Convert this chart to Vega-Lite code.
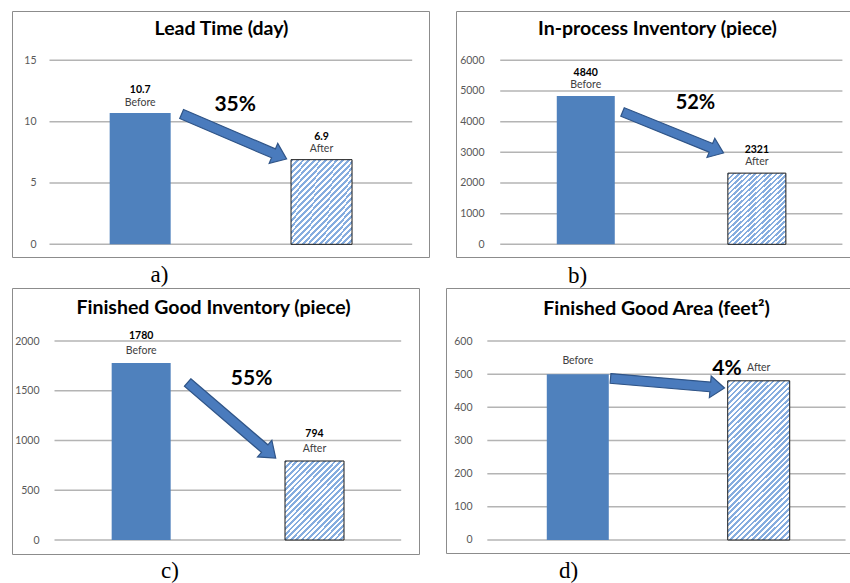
{
  "$schema": "https://vega.github.io/schema/vega-lite/v6.json",
  "background": "white",
  "padding": {"left": 11, "top": 10, "right": 0, "bottom": 0},
  "datasets": {
    "bars": [
      {"panel": "a", "cat": "Before", "x": 1, "value": 10.7, "vtext": "10.7"},
      {"panel": "a", "cat": "After", "x": 2, "value": 6.9, "vtext": "6.9"},
      {"panel": "b", "cat": "Before", "x": 1, "value": 4840, "vtext": "4840"},
      {"panel": "b", "cat": "After", "x": 2, "value": 2321, "vtext": "2321"},
      {"panel": "c", "cat": "Before", "x": 1, "value": 1780, "vtext": "1780"},
      {"panel": "c", "cat": "After", "x": 2, "value": 794, "vtext": "794"},
      {"panel": "d", "cat": "Before", "x": 1, "value": 500, "vtext": ""},
      {"panel": "d", "cat": "After", "x": 2, "value": 480, "vtext": ""}
    ],
    "grid": [
      {"panel": "a", "value": 0}, {"panel": "a", "value": 5}, {"panel": "a", "value": 10}, {"panel": "a", "value": 15},
      {"panel": "b", "value": 0}, {"panel": "b", "value": 1000}, {"panel": "b", "value": 2000}, {"panel": "b", "value": 3000},
      {"panel": "b", "value": 4000}, {"panel": "b", "value": 5000}, {"panel": "b", "value": 6000},
      {"panel": "c", "value": 0}, {"panel": "c", "value": 500}, {"panel": "c", "value": 1000}, {"panel": "c", "value": 1500}, {"panel": "c", "value": 2000},
      {"panel": "d", "value": 0}, {"panel": "d", "value": 100}, {"panel": "d", "value": 200}, {"panel": "d", "value": 300},
      {"panel": "d", "value": 400}, {"panel": "d", "value": 500}, {"panel": "d", "value": 600}
    ],
    "pct": [
      {"panel": "a", "x": 1.524, "value": 10.87, "label": "35%"},
      {"panel": "b", "x": 1.641, "value": 4412, "label": "52%"},
      {"panel": "c", "x": 1.637, "value": 1558, "label": "55%"},
      {"panel": "d", "x": 1.825, "value": 497.5, "label": "4%"}
    ],
    "arrows": [
      {"panel": "a", "x": 1.518, "value": 8.79},
      {"panel": "b", "x": 1.51, "value": 3646},
      {"panel": "c", "x": 1.522, "value": 1203.5},
      {"panel": "d", "x": 1.496, "value": 472.6}
    ]
  },
  "spacing": -2,
  "vconcat": [
    {
      "spacing": 25,
      "hconcat": [
        {
          "width": 417, "height": 246,
          "title": {"text": "Lead Time (day)", "offset": -28, "dx": 1},
          "encoding": {
            "y": {"field": "value", "type": "quantitative", "scale": {"domain": [-1.035, 19.019], "nice": false, "zero": false}, "axis": {"values": [0, 5, 10, 15], "offset": -24, "format": "d"}}
          },
          "layer": [
            {"data": {"name": "grid"}, "transform": [{"filter": "datum.panel === 'a'"}], "mark": {"type": "rule", "color": "#b4b4b4", "strokeWidth": 1.5}, "encoding": {"x": {"datum": 0.5, "type": "quantitative"}, "x2": {"datum": 2.5}}},
            {"data": {"name": "bars"}, "transform": [{"filter": "datum.panel === 'a' && datum.cat === 'Before'"}], "mark": {"type": "bar", "width": 61, "fill": "#4f81bd"},
             "encoding": {"x": {"field": "x", "type": "quantitative", "scale": {"domain": [0.3208, 2.5651], "nice": false, "zero": false}, "axis": {"title": "a)", "titleX": 147, "titleY": 24}}}},
            {"data": {"name": "bars"}, "transform": [{"filter": "datum.panel === 'a' && datum.cat === 'After'"}],
             "mark": {"type": "bar", "width": 61, "stroke": "#1a1a1a", "strokeWidth": 1, "fill": {"gradient": "linear", "x1": 0, "y1": 0, "x2": 0.848, "y2": 1.1156, "stops": [
        {"offset": 0, "color": "#86addf"},
        {"offset": 0.02, "color": "#86addf"}, {"offset": 0.02, "color": "#ffffff"},
        {"offset": 0.04, "color": "#ffffff"}, {"offset": 0.04, "color": "#86addf"},
        {"offset": 0.06, "color": "#86addf"}, {"offset": 0.06, "color": "#ffffff"},
        {"offset": 0.08, "color": "#ffffff"}, {"offset": 0.08, "color": "#86addf"},
        {"offset": 0.1, "color": "#86addf"}, {"offset": 0.1, "color": "#ffffff"},
        {"offset": 0.12, "color": "#ffffff"}, {"offset": 0.12, "color": "#86addf"},
        {"offset": 0.14, "color": "#86addf"}, {"offset": 0.14, "color": "#ffffff"},
        {"offset": 0.16, "color": "#ffffff"}, {"offset": 0.16, "color": "#86addf"},
        {"offset": 0.18, "color": "#86addf"}, {"offset": 0.18, "color": "#ffffff"},
        {"offset": 0.2, "color": "#ffffff"}, {"offset": 0.2, "color": "#86addf"},
        {"offset": 0.22, "color": "#86addf"}, {"offset": 0.22, "color": "#ffffff"},
        {"offset": 0.24, "color": "#ffffff"}, {"offset": 0.24, "color": "#86addf"},
        {"offset": 0.26, "color": "#86addf"}, {"offset": 0.26, "color": "#ffffff"},
        {"offset": 0.28, "color": "#ffffff"}, {"offset": 0.28, "color": "#86addf"},
        {"offset": 0.3, "color": "#86addf"}, {"offset": 0.3, "color": "#ffffff"},
        {"offset": 0.32, "color": "#ffffff"}, {"offset": 0.32, "color": "#86addf"},
        {"offset": 0.34, "color": "#86addf"}, {"offset": 0.34, "color": "#ffffff"},
        {"offset": 0.36, "color": "#ffffff"}, {"offset": 0.36, "color": "#86addf"},
        {"offset": 0.38, "color": "#86addf"}, {"offset": 0.38, "color": "#ffffff"},
        {"offset": 0.4, "color": "#ffffff"}, {"offset": 0.4, "color": "#86addf"},
        {"offset": 0.42, "color": "#86addf"}, {"offset": 0.42, "color": "#ffffff"},
        {"offset": 0.44, "color": "#ffffff"}, {"offset": 0.44, "color": "#86addf"},
        {"offset": 0.46, "color": "#86addf"}, {"offset": 0.46, "color": "#ffffff"},
        {"offset": 0.48, "color": "#ffffff"}, {"offset": 0.48, "color": "#86addf"},
        {"offset": 0.5, "color": "#86addf"}, {"offset": 0.5, "color": "#ffffff"},
        {"offset": 0.52, "color": "#ffffff"}, {"offset": 0.52, "color": "#86addf"},
        {"offset": 0.54, "color": "#86addf"}, {"offset": 0.54, "color": "#ffffff"},
        {"offset": 0.56, "color": "#ffffff"}, {"offset": 0.56, "color": "#86addf"},
        {"offset": 0.58, "color": "#86addf"}, {"offset": 0.58, "color": "#ffffff"},
        {"offset": 0.6, "color": "#ffffff"}, {"offset": 0.6, "color": "#86addf"},
        {"offset": 0.62, "color": "#86addf"}, {"offset": 0.62, "color": "#ffffff"},
        {"offset": 0.64, "color": "#ffffff"}, {"offset": 0.64, "color": "#86addf"},
        {"offset": 0.66, "color": "#86addf"}, {"offset": 0.66, "color": "#ffffff"},
        {"offset": 0.68, "color": "#ffffff"}, {"offset": 0.68, "color": "#86addf"},
        {"offset": 0.7, "color": "#86addf"}, {"offset": 0.7, "color": "#ffffff"},
        {"offset": 0.72, "color": "#ffffff"}, {"offset": 0.72, "color": "#86addf"},
        {"offset": 0.74, "color": "#86addf"}, {"offset": 0.74, "color": "#ffffff"},
        {"offset": 0.76, "color": "#ffffff"}, {"offset": 0.76, "color": "#86addf"},
        {"offset": 0.78, "color": "#86addf"}, {"offset": 0.78, "color": "#ffffff"},
        {"offset": 0.8, "color": "#ffffff"}, {"offset": 0.8, "color": "#86addf"},
        {"offset": 0.82, "color": "#86addf"}, {"offset": 0.82, "color": "#ffffff"},
        {"offset": 0.84, "color": "#ffffff"}, {"offset": 0.84, "color": "#86addf"},
        {"offset": 0.86, "color": "#86addf"}, {"offset": 0.86, "color": "#ffffff"},
        {"offset": 0.88, "color": "#ffffff"}, {"offset": 0.88, "color": "#86addf"},
        {"offset": 0.9, "color": "#86addf"}, {"offset": 0.9, "color": "#ffffff"},
        {"offset": 0.92, "color": "#ffffff"}, {"offset": 0.92, "color": "#86addf"},
        {"offset": 0.94, "color": "#86addf"}, {"offset": 0.94, "color": "#ffffff"},
        {"offset": 0.96, "color": "#ffffff"}, {"offset": 0.96, "color": "#86addf"},
        {"offset": 0.98, "color": "#86addf"}, {"offset": 0.98, "color": "#ffffff"},
        {"offset": 1, "color": "#ffffff"}]}},
             "encoding": {"x": {"field": "x", "type": "quantitative"}}},
            {"data": {"name": "bars"}, "transform": [{"filter": "datum.panel === 'a'"}], "mark": {"type": "text", "dy": -7.5, "baseline": "alphabetic", "fontSize": 10.5, "color": "#404040"}, "encoding": {"x": {"field": "x", "type": "quantitative"}, "text": {"field": "cat"}}},
            {"data": {"name": "bars"}, "transform": [{"filter": "datum.panel === 'a'"}], "mark": {"type": "text", "dy": -20, "baseline": "alphabetic", "fontSize": 10.5, "fontWeight": "bold", "color": "#000000"}, "encoding": {"x": {"field": "x", "type": "quantitative"}, "text": {"field": "vtext"}}},
            {"data": {"name": "arrows"}, "transform": [{"filter": "datum.panel === 'a'"}], "mark": {"type": "point", "shape": "M-1,-0.085L0.75,-0.085L0.75,-0.19L1,0L0.75,0.19L0.75,0.085L-1,0.085Z", "size": 13042, "angle": 23.2, "filled": true, "fill": "#4a7bbd", "stroke": "#2f5487", "strokeWidth": 1.2, "opacity": 1}, "encoding": {"x": {"field": "x", "type": "quantitative"}}},
            {"data": {"name": "pct"}, "transform": [{"filter": "datum.panel === 'a'"}], "mark": {"type": "text", "baseline": "alphabetic", "align": "center", "fontSize": 21, "fontWeight": "bold", "color": "#000000"}, "encoding": {"x": {"field": "x", "type": "quantitative"}, "text": {"field": "label"}}}
          ]
        },
        {
          "width": 395, "height": 246,
          "title": {"text": "In-process Inventory (piece)", "offset": -28, "dx": 4},
          "encoding": {
            "y": {"field": "value", "type": "quantitative", "scale": {"domain": [-414, 7608], "nice": false, "zero": false}, "axis": {"values": [0, 1000, 2000, 3000, 4000, 5000, 6000], "offset": -28, "format": "d"}}
          },
          "layer": [
            {"data": {"name": "grid"}, "transform": [{"filter": "datum.panel === 'b'"}], "mark": {"type": "rule", "color": "#b4b4b4", "strokeWidth": 1.5}, "encoding": {"x": {"datum": 0.5, "type": "quantitative"}, "x2": {"datum": 2.5}}},
            {"data": {"name": "bars"}, "transform": [{"filter": "datum.panel === 'b' && datum.cat === 'Before'"}], "mark": {"type": "bar", "width": 58, "fill": "#4f81bd"},
             "encoding": {"x": {"field": "x", "type": "quantitative", "scale": {"domain": [0.2707, 2.521], "nice": false, "zero": false}, "axis": {"title": "b)", "titleX": 121, "titleY": 25.5}}}},
            {"data": {"name": "bars"}, "transform": [{"filter": "datum.panel === 'b' && datum.cat === 'After'"}],
             "mark": {"type": "bar", "width": 58, "stroke": "#1a1a1a", "strokeWidth": 1, "fill": {"gradient": "linear", "x1": 0, "y1": 0, "x2": 0.848, "y2": 1.1156, "stops": [
        {"offset": 0, "color": "#86addf"},
        {"offset": 0.02, "color": "#86addf"}, {"offset": 0.02, "color": "#ffffff"},
        {"offset": 0.04, "color": "#ffffff"}, {"offset": 0.04, "color": "#86addf"},
        {"offset": 0.06, "color": "#86addf"}, {"offset": 0.06, "color": "#ffffff"},
        {"offset": 0.08, "color": "#ffffff"}, {"offset": 0.08, "color": "#86addf"},
        {"offset": 0.1, "color": "#86addf"}, {"offset": 0.1, "color": "#ffffff"},
        {"offset": 0.12, "color": "#ffffff"}, {"offset": 0.12, "color": "#86addf"},
        {"offset": 0.14, "color": "#86addf"}, {"offset": 0.14, "color": "#ffffff"},
        {"offset": 0.16, "color": "#ffffff"}, {"offset": 0.16, "color": "#86addf"},
        {"offset": 0.18, "color": "#86addf"}, {"offset": 0.18, "color": "#ffffff"},
        {"offset": 0.2, "color": "#ffffff"}, {"offset": 0.2, "color": "#86addf"},
        {"offset": 0.22, "color": "#86addf"}, {"offset": 0.22, "color": "#ffffff"},
        {"offset": 0.24, "color": "#ffffff"}, {"offset": 0.24, "color": "#86addf"},
        {"offset": 0.26, "color": "#86addf"}, {"offset": 0.26, "color": "#ffffff"},
        {"offset": 0.28, "color": "#ffffff"}, {"offset": 0.28, "color": "#86addf"},
        {"offset": 0.3, "color": "#86addf"}, {"offset": 0.3, "color": "#ffffff"},
        {"offset": 0.32, "color": "#ffffff"}, {"offset": 0.32, "color": "#86addf"},
        {"offset": 0.34, "color": "#86addf"}, {"offset": 0.34, "color": "#ffffff"},
        {"offset": 0.36, "color": "#ffffff"}, {"offset": 0.36, "color": "#86addf"},
        {"offset": 0.38, "color": "#86addf"}, {"offset": 0.38, "color": "#ffffff"},
        {"offset": 0.4, "color": "#ffffff"}, {"offset": 0.4, "color": "#86addf"},
        {"offset": 0.42, "color": "#86addf"}, {"offset": 0.42, "color": "#ffffff"},
        {"offset": 0.44, "color": "#ffffff"}, {"offset": 0.44, "color": "#86addf"},
        {"offset": 0.46, "color": "#86addf"}, {"offset": 0.46, "color": "#ffffff"},
        {"offset": 0.48, "color": "#ffffff"}, {"offset": 0.48, "color": "#86addf"},
        {"offset": 0.5, "color": "#86addf"}, {"offset": 0.5, "color": "#ffffff"},
        {"offset": 0.52, "color": "#ffffff"}, {"offset": 0.52, "color": "#86addf"},
        {"offset": 0.54, "color": "#86addf"}, {"offset": 0.54, "color": "#ffffff"},
        {"offset": 0.56, "color": "#ffffff"}, {"offset": 0.56, "color": "#86addf"},
        {"offset": 0.58, "color": "#86addf"}, {"offset": 0.58, "color": "#ffffff"},
        {"offset": 0.6, "color": "#ffffff"}, {"offset": 0.6, "color": "#86addf"},
        {"offset": 0.62, "color": "#86addf"}, {"offset": 0.62, "color": "#ffffff"},
        {"offset": 0.64, "color": "#ffffff"}, {"offset": 0.64, "color": "#86addf"},
        {"offset": 0.66, "color": "#86addf"}, {"offset": 0.66, "color": "#ffffff"},
        {"offset": 0.68, "color": "#ffffff"}, {"offset": 0.68, "color": "#86addf"},
        {"offset": 0.7, "color": "#86addf"}, {"offset": 0.7, "color": "#ffffff"},
        {"offset": 0.72, "color": "#ffffff"}, {"offset": 0.72, "color": "#86addf"},
        {"offset": 0.74, "color": "#86addf"}, {"offset": 0.74, "color": "#ffffff"},
        {"offset": 0.76, "color": "#ffffff"}, {"offset": 0.76, "color": "#86addf"},
        {"offset": 0.78, "color": "#86addf"}, {"offset": 0.78, "color": "#ffffff"},
        {"offset": 0.8, "color": "#ffffff"}, {"offset": 0.8, "color": "#86addf"},
        {"offset": 0.82, "color": "#86addf"}, {"offset": 0.82, "color": "#ffffff"},
        {"offset": 0.84, "color": "#ffffff"}, {"offset": 0.84, "color": "#86addf"},
        {"offset": 0.86, "color": "#86addf"}, {"offset": 0.86, "color": "#ffffff"},
        {"offset": 0.88, "color": "#ffffff"}, {"offset": 0.88, "color": "#86addf"},
        {"offset": 0.9, "color": "#86addf"}, {"offset": 0.9, "color": "#ffffff"},
        {"offset": 0.92, "color": "#ffffff"}, {"offset": 0.92, "color": "#86addf"},
        {"offset": 0.94, "color": "#86addf"}, {"offset": 0.94, "color": "#ffffff"},
        {"offset": 0.96, "color": "#ffffff"}, {"offset": 0.96, "color": "#86addf"},
        {"offset": 0.98, "color": "#86addf"}, {"offset": 0.98, "color": "#ffffff"},
        {"offset": 1, "color": "#ffffff"}]}},
             "encoding": {"x": {"field": "x", "type": "quantitative"}}},
            {"data": {"name": "bars"}, "transform": [{"filter": "datum.panel === 'b'"}], "mark": {"type": "text", "dy": -8, "baseline": "alphabetic", "fontSize": 10.5, "color": "#404040"}, "encoding": {"x": {"field": "x", "type": "quantitative"}, "text": {"field": "cat"}}},
            {"data": {"name": "bars"}, "transform": [{"filter": "datum.panel === 'b'"}], "mark": {"type": "text", "dy": -20, "baseline": "alphabetic", "fontSize": 10.5, "fontWeight": "bold", "color": "#000000"}, "encoding": {"x": {"field": "x", "type": "quantitative"}, "text": {"field": "vtext"}}},
            {"data": {"name": "arrows"}, "transform": [{"filter": "datum.panel === 'b'"}], "mark": {"type": "point", "shape": "M-1,-0.085L0.75,-0.085L0.75,-0.19L1,0L0.75,0.19L0.75,0.085L-1,0.085Z", "size": 11881, "angle": 22.1, "filled": true, "fill": "#4a7bbd", "stroke": "#2f5487", "strokeWidth": 1.2, "opacity": 1}, "encoding": {"x": {"field": "x", "type": "quantitative"}}},
            {"data": {"name": "pct"}, "transform": [{"filter": "datum.panel === 'b'"}], "mark": {"type": "text", "baseline": "alphabetic", "align": "center", "fontSize": 20, "fontWeight": "bold", "color": "#000000"}, "encoding": {"x": {"field": "x", "type": "quantitative"}, "text": {"field": "label"}}}
          ]
        }
      ]
    },
    {
      "spacing": 25,
      "hconcat": [
        {
          "width": 407, "height": 266,
          "title": {"text": "Finished Good Inventory (piece)", "offset": -30, "dx": -2},
          "encoding": {
            "y": {"field": "value", "type": "quantitative", "scale": {"domain": [-140.7, 2532.7], "nice": false, "zero": false}, "axis": {"values": [0, 500, 1000, 1500, 2000], "offset": -27, "format": "d"}}
          },
          "layer": [
            {"data": {"name": "grid"}, "transform": [{"filter": "datum.panel === 'c'"}], "mark": {"type": "rule", "color": "#b4b4b4", "strokeWidth": 1.5}, "encoding": {"x": {"datum": 0.5, "type": "quantitative"}, "x2": {"datum": 2.5}}},
            {"data": {"name": "bars"}, "transform": [{"filter": "datum.panel === 'c' && datum.cat === 'Before'"}], "mark": {"type": "bar", "width": 59, "fill": "#4f81bd"},
             "encoding": {"x": {"field": "x", "type": "quantitative", "scale": {"domain": [0.2836, 2.574], "nice": false, "zero": false}, "axis": {"title": "c)", "titleX": 157.5, "titleY": 23}}}},
            {"data": {"name": "bars"}, "transform": [{"filter": "datum.panel === 'c' && datum.cat === 'After'"}],
             "mark": {"type": "bar", "width": 59, "stroke": "#1a1a1a", "strokeWidth": 1, "fill": {"gradient": "linear", "x1": 0, "y1": 0, "x2": 0.848, "y2": 1.1156, "stops": [
        {"offset": 0, "color": "#86addf"},
        {"offset": 0.02, "color": "#86addf"}, {"offset": 0.02, "color": "#ffffff"},
        {"offset": 0.04, "color": "#ffffff"}, {"offset": 0.04, "color": "#86addf"},
        {"offset": 0.06, "color": "#86addf"}, {"offset": 0.06, "color": "#ffffff"},
        {"offset": 0.08, "color": "#ffffff"}, {"offset": 0.08, "color": "#86addf"},
        {"offset": 0.1, "color": "#86addf"}, {"offset": 0.1, "color": "#ffffff"},
        {"offset": 0.12, "color": "#ffffff"}, {"offset": 0.12, "color": "#86addf"},
        {"offset": 0.14, "color": "#86addf"}, {"offset": 0.14, "color": "#ffffff"},
        {"offset": 0.16, "color": "#ffffff"}, {"offset": 0.16, "color": "#86addf"},
        {"offset": 0.18, "color": "#86addf"}, {"offset": 0.18, "color": "#ffffff"},
        {"offset": 0.2, "color": "#ffffff"}, {"offset": 0.2, "color": "#86addf"},
        {"offset": 0.22, "color": "#86addf"}, {"offset": 0.22, "color": "#ffffff"},
        {"offset": 0.24, "color": "#ffffff"}, {"offset": 0.24, "color": "#86addf"},
        {"offset": 0.26, "color": "#86addf"}, {"offset": 0.26, "color": "#ffffff"},
        {"offset": 0.28, "color": "#ffffff"}, {"offset": 0.28, "color": "#86addf"},
        {"offset": 0.3, "color": "#86addf"}, {"offset": 0.3, "color": "#ffffff"},
        {"offset": 0.32, "color": "#ffffff"}, {"offset": 0.32, "color": "#86addf"},
        {"offset": 0.34, "color": "#86addf"}, {"offset": 0.34, "color": "#ffffff"},
        {"offset": 0.36, "color": "#ffffff"}, {"offset": 0.36, "color": "#86addf"},
        {"offset": 0.38, "color": "#86addf"}, {"offset": 0.38, "color": "#ffffff"},
        {"offset": 0.4, "color": "#ffffff"}, {"offset": 0.4, "color": "#86addf"},
        {"offset": 0.42, "color": "#86addf"}, {"offset": 0.42, "color": "#ffffff"},
        {"offset": 0.44, "color": "#ffffff"}, {"offset": 0.44, "color": "#86addf"},
        {"offset": 0.46, "color": "#86addf"}, {"offset": 0.46, "color": "#ffffff"},
        {"offset": 0.48, "color": "#ffffff"}, {"offset": 0.48, "color": "#86addf"},
        {"offset": 0.5, "color": "#86addf"}, {"offset": 0.5, "color": "#ffffff"},
        {"offset": 0.52, "color": "#ffffff"}, {"offset": 0.52, "color": "#86addf"},
        {"offset": 0.54, "color": "#86addf"}, {"offset": 0.54, "color": "#ffffff"},
        {"offset": 0.56, "color": "#ffffff"}, {"offset": 0.56, "color": "#86addf"},
        {"offset": 0.58, "color": "#86addf"}, {"offset": 0.58, "color": "#ffffff"},
        {"offset": 0.6, "color": "#ffffff"}, {"offset": 0.6, "color": "#86addf"},
        {"offset": 0.62, "color": "#86addf"}, {"offset": 0.62, "color": "#ffffff"},
        {"offset": 0.64, "color": "#ffffff"}, {"offset": 0.64, "color": "#86addf"},
        {"offset": 0.66, "color": "#86addf"}, {"offset": 0.66, "color": "#ffffff"},
        {"offset": 0.68, "color": "#ffffff"}, {"offset": 0.68, "color": "#86addf"},
        {"offset": 0.7, "color": "#86addf"}, {"offset": 0.7, "color": "#ffffff"},
        {"offset": 0.72, "color": "#ffffff"}, {"offset": 0.72, "color": "#86addf"},
        {"offset": 0.74, "color": "#86addf"}, {"offset": 0.74, "color": "#ffffff"},
        {"offset": 0.76, "color": "#ffffff"}, {"offset": 0.76, "color": "#86addf"},
        {"offset": 0.78, "color": "#86addf"}, {"offset": 0.78, "color": "#ffffff"},
        {"offset": 0.8, "color": "#ffffff"}, {"offset": 0.8, "color": "#86addf"},
        {"offset": 0.82, "color": "#86addf"}, {"offset": 0.82, "color": "#ffffff"},
        {"offset": 0.84, "color": "#ffffff"}, {"offset": 0.84, "color": "#86addf"},
        {"offset": 0.86, "color": "#86addf"}, {"offset": 0.86, "color": "#ffffff"},
        {"offset": 0.88, "color": "#ffffff"}, {"offset": 0.88, "color": "#86addf"},
        {"offset": 0.9, "color": "#86addf"}, {"offset": 0.9, "color": "#ffffff"},
        {"offset": 0.92, "color": "#ffffff"}, {"offset": 0.92, "color": "#86addf"},
        {"offset": 0.94, "color": "#86addf"}, {"offset": 0.94, "color": "#ffffff"},
        {"offset": 0.96, "color": "#ffffff"}, {"offset": 0.96, "color": "#86addf"},
        {"offset": 0.98, "color": "#86addf"}, {"offset": 0.98, "color": "#ffffff"},
        {"offset": 1, "color": "#ffffff"}]}},
             "encoding": {"x": {"field": "x", "type": "quantitative"}}},
            {"data": {"name": "bars"}, "transform": [{"filter": "datum.panel === 'c'"}], "mark": {"type": "text", "dy": -9, "baseline": "alphabetic", "fontSize": 10.5, "color": "#404040"}, "encoding": {"x": {"field": "x", "type": "quantitative"}, "text": {"field": "cat"}}},
            {"data": {"name": "bars"}, "transform": [{"filter": "datum.panel === 'c'"}], "mark": {"type": "text", "dy": -24, "baseline": "alphabetic", "fontSize": 10.5, "fontWeight": "bold", "color": "#000000"}, "encoding": {"x": {"field": "x", "type": "quantitative"}, "text": {"field": "vtext"}}},
            {"data": {"name": "arrows"}, "transform": [{"filter": "datum.panel === 'c'"}], "mark": {"type": "point", "shape": "M-1,-0.085L0.75,-0.085L0.75,-0.19L1,0L0.75,0.19L0.75,0.085L-1,0.085Z", "size": 13456, "angle": 40.6, "filled": true, "fill": "#4a7bbd", "stroke": "#2f5487", "strokeWidth": 1.2, "opacity": 1}, "encoding": {"x": {"field": "x", "type": "quantitative"}}},
            {"data": {"name": "pct"}, "transform": [{"filter": "datum.panel === 'c'"}], "mark": {"type": "text", "baseline": "alphabetic", "align": "center", "fontSize": 21, "fontWeight": "bold", "color": "#000000"}, "encoding": {"x": {"field": "x", "type": "quantitative"}, "text": {"field": "label"}}}
          ]
        },
        {
          "width": 405, "height": 265,
          "title": {"text": "Finished Good Area (feet²)", "offset": -31, "dx": 8},
          "encoding": {
            "y": {"field": "value", "type": "quantitative", "scale": {"domain": [-39.2, 759.8], "nice": false, "zero": false}, "axis": {"values": [0, 100, 200, 300, 400, 500, 600], "offset": -26, "format": "d"}}
          },
          "layer": [
            {"data": {"name": "grid"}, "transform": [{"filter": "datum.panel === 'd'"}], "mark": {"type": "rule", "color": "#b4b4b4", "strokeWidth": 1.5}, "encoding": {"x": {"datum": 0.5, "type": "quantitative"}, "x2": {"datum": 2.48}}},
            {"data": {"name": "bars"}, "transform": [{"filter": "datum.panel === 'd' && datum.cat === 'Before'"}], "mark": {"type": "bar", "width": 62, "fill": "#4f81bd"},
             "encoding": {"x": {"field": "x", "type": "quantitative", "scale": {"domain": [0.2992, 2.4825], "nice": false, "zero": false}, "axis": {"title": "d)", "titleX": 122, "titleY": 24}}}},
            {"data": {"name": "bars"}, "transform": [{"filter": "datum.panel === 'd' && datum.cat === 'After'"}],
             "mark": {"type": "bar", "width": 62, "stroke": "#1a1a1a", "strokeWidth": 1, "fill": {"gradient": "linear", "x1": 0, "y1": 0, "x2": 0.4656, "y2": 1.2063, "stops": [
        {"offset": 0, "color": "#86addf"},
        {"offset": 0.0125, "color": "#86addf"}, {"offset": 0.0125, "color": "#ffffff"},
        {"offset": 0.025, "color": "#ffffff"}, {"offset": 0.025, "color": "#86addf"},
        {"offset": 0.0375, "color": "#86addf"}, {"offset": 0.0375, "color": "#ffffff"},
        {"offset": 0.05, "color": "#ffffff"}, {"offset": 0.05, "color": "#86addf"},
        {"offset": 0.0625, "color": "#86addf"}, {"offset": 0.0625, "color": "#ffffff"},
        {"offset": 0.075, "color": "#ffffff"}, {"offset": 0.075, "color": "#86addf"},
        {"offset": 0.0875, "color": "#86addf"}, {"offset": 0.0875, "color": "#ffffff"},
        {"offset": 0.1, "color": "#ffffff"}, {"offset": 0.1, "color": "#86addf"},
        {"offset": 0.1125, "color": "#86addf"}, {"offset": 0.1125, "color": "#ffffff"},
        {"offset": 0.125, "color": "#ffffff"}, {"offset": 0.125, "color": "#86addf"},
        {"offset": 0.1375, "color": "#86addf"}, {"offset": 0.1375, "color": "#ffffff"},
        {"offset": 0.15, "color": "#ffffff"}, {"offset": 0.15, "color": "#86addf"},
        {"offset": 0.1625, "color": "#86addf"}, {"offset": 0.1625, "color": "#ffffff"},
        {"offset": 0.175, "color": "#ffffff"}, {"offset": 0.175, "color": "#86addf"},
        {"offset": 0.1875, "color": "#86addf"}, {"offset": 0.1875, "color": "#ffffff"},
        {"offset": 0.2, "color": "#ffffff"}, {"offset": 0.2, "color": "#86addf"},
        {"offset": 0.2125, "color": "#86addf"}, {"offset": 0.2125, "color": "#ffffff"},
        {"offset": 0.225, "color": "#ffffff"}, {"offset": 0.225, "color": "#86addf"},
        {"offset": 0.2375, "color": "#86addf"}, {"offset": 0.2375, "color": "#ffffff"},
        {"offset": 0.25, "color": "#ffffff"}, {"offset": 0.25, "color": "#86addf"},
        {"offset": 0.2625, "color": "#86addf"}, {"offset": 0.2625, "color": "#ffffff"},
        {"offset": 0.275, "color": "#ffffff"}, {"offset": 0.275, "color": "#86addf"},
        {"offset": 0.2875, "color": "#86addf"}, {"offset": 0.2875, "color": "#ffffff"},
        {"offset": 0.3, "color": "#ffffff"}, {"offset": 0.3, "color": "#86addf"},
        {"offset": 0.3125, "color": "#86addf"}, {"offset": 0.3125, "color": "#ffffff"},
        {"offset": 0.325, "color": "#ffffff"}, {"offset": 0.325, "color": "#86addf"},
        {"offset": 0.3375, "color": "#86addf"}, {"offset": 0.3375, "color": "#ffffff"},
        {"offset": 0.35, "color": "#ffffff"}, {"offset": 0.35, "color": "#86addf"},
        {"offset": 0.3625, "color": "#86addf"}, {"offset": 0.3625, "color": "#ffffff"},
        {"offset": 0.375, "color": "#ffffff"}, {"offset": 0.375, "color": "#86addf"},
        {"offset": 0.3875, "color": "#86addf"}, {"offset": 0.3875, "color": "#ffffff"},
        {"offset": 0.4, "color": "#ffffff"}, {"offset": 0.4, "color": "#86addf"},
        {"offset": 0.4125, "color": "#86addf"}, {"offset": 0.4125, "color": "#ffffff"},
        {"offset": 0.425, "color": "#ffffff"}, {"offset": 0.425, "color": "#86addf"},
        {"offset": 0.4375, "color": "#86addf"}, {"offset": 0.4375, "color": "#ffffff"},
        {"offset": 0.45, "color": "#ffffff"}, {"offset": 0.45, "color": "#86addf"},
        {"offset": 0.4625, "color": "#86addf"}, {"offset": 0.4625, "color": "#ffffff"},
        {"offset": 0.475, "color": "#ffffff"}, {"offset": 0.475, "color": "#86addf"},
        {"offset": 0.4875, "color": "#86addf"}, {"offset": 0.4875, "color": "#ffffff"},
        {"offset": 0.5, "color": "#ffffff"}, {"offset": 0.5, "color": "#86addf"},
        {"offset": 0.5125, "color": "#86addf"}, {"offset": 0.5125, "color": "#ffffff"},
        {"offset": 0.525, "color": "#ffffff"}, {"offset": 0.525, "color": "#86addf"},
        {"offset": 0.5375, "color": "#86addf"}, {"offset": 0.5375, "color": "#ffffff"},
        {"offset": 0.55, "color": "#ffffff"}, {"offset": 0.55, "color": "#86addf"},
        {"offset": 0.5625, "color": "#86addf"}, {"offset": 0.5625, "color": "#ffffff"},
        {"offset": 0.575, "color": "#ffffff"}, {"offset": 0.575, "color": "#86addf"},
        {"offset": 0.5875, "color": "#86addf"}, {"offset": 0.5875, "color": "#ffffff"},
        {"offset": 0.6, "color": "#ffffff"}, {"offset": 0.6, "color": "#86addf"},
        {"offset": 0.6125, "color": "#86addf"}, {"offset": 0.6125, "color": "#ffffff"},
        {"offset": 0.625, "color": "#ffffff"}, {"offset": 0.625, "color": "#86addf"},
        {"offset": 0.6375, "color": "#86addf"}, {"offset": 0.6375, "color": "#ffffff"},
        {"offset": 0.65, "color": "#ffffff"}, {"offset": 0.65, "color": "#86addf"},
        {"offset": 0.6625, "color": "#86addf"}, {"offset": 0.6625, "color": "#ffffff"},
        {"offset": 0.675, "color": "#ffffff"}, {"offset": 0.675, "color": "#86addf"},
        {"offset": 0.6875, "color": "#86addf"}, {"offset": 0.6875, "color": "#ffffff"},
        {"offset": 0.7, "color": "#ffffff"}, {"offset": 0.7, "color": "#86addf"},
        {"offset": 0.7125, "color": "#86addf"}, {"offset": 0.7125, "color": "#ffffff"},
        {"offset": 0.725, "color": "#ffffff"}, {"offset": 0.725, "color": "#86addf"},
        {"offset": 0.7375, "color": "#86addf"}, {"offset": 0.7375, "color": "#ffffff"},
        {"offset": 0.75, "color": "#ffffff"}, {"offset": 0.75, "color": "#86addf"},
        {"offset": 0.7625, "color": "#86addf"}, {"offset": 0.7625, "color": "#ffffff"},
        {"offset": 0.775, "color": "#ffffff"}, {"offset": 0.775, "color": "#86addf"},
        {"offset": 0.7875, "color": "#86addf"}, {"offset": 0.7875, "color": "#ffffff"},
        {"offset": 0.8, "color": "#ffffff"}, {"offset": 0.8, "color": "#86addf"},
        {"offset": 0.8125, "color": "#86addf"}, {"offset": 0.8125, "color": "#ffffff"},
        {"offset": 0.825, "color": "#ffffff"}, {"offset": 0.825, "color": "#86addf"},
        {"offset": 0.8375, "color": "#86addf"}, {"offset": 0.8375, "color": "#ffffff"},
        {"offset": 0.85, "color": "#ffffff"}, {"offset": 0.85, "color": "#86addf"},
        {"offset": 0.8625, "color": "#86addf"}, {"offset": 0.8625, "color": "#ffffff"},
        {"offset": 0.875, "color": "#ffffff"}, {"offset": 0.875, "color": "#86addf"},
        {"offset": 0.8875, "color": "#86addf"}, {"offset": 0.8875, "color": "#ffffff"},
        {"offset": 0.9, "color": "#ffffff"}, {"offset": 0.9, "color": "#86addf"},
        {"offset": 0.9125, "color": "#86addf"}, {"offset": 0.9125, "color": "#ffffff"},
        {"offset": 0.925, "color": "#ffffff"}, {"offset": 0.925, "color": "#86addf"},
        {"offset": 0.9375, "color": "#86addf"}, {"offset": 0.9375, "color": "#ffffff"},
        {"offset": 0.95, "color": "#ffffff"}, {"offset": 0.95, "color": "#86addf"},
        {"offset": 0.9625, "color": "#86addf"}, {"offset": 0.9625, "color": "#ffffff"},
        {"offset": 0.975, "color": "#ffffff"}, {"offset": 0.975, "color": "#86addf"},
        {"offset": 0.9875, "color": "#86addf"}, {"offset": 0.9875, "color": "#ffffff"},
        {"offset": 1, "color": "#ffffff"}]}},
             "encoding": {"x": {"field": "x", "type": "quantitative"}}},
            {"data": {"name": "bars"}, "transform": [{"filter": "datum.panel === 'd'"}], "mark": {"type": "text", "dy": -10, "baseline": "alphabetic", "fontSize": 10.5, "color": "#404040"}, "encoding": {"x": {"field": "x", "type": "quantitative"}, "text": {"field": "cat"}}},
            {"data": {"name": "arrows"}, "transform": [{"filter": "datum.panel === 'd'"}], "mark": {"type": "point", "shape": "M-1,-0.085L0.75,-0.085L0.75,-0.19L1,0L0.75,0.19L0.75,0.085L-1,0.085Z", "size": 13087, "angle": 4.8, "filled": true, "fill": "#4a7bbd", "stroke": "#2f5487", "strokeWidth": 1.2, "opacity": 1}, "encoding": {"x": {"field": "x", "type": "quantitative"}}},
            {"data": {"name": "pct"}, "transform": [{"filter": "datum.panel === 'd'"}], "mark": {"type": "text", "baseline": "alphabetic", "align": "center", "fontSize": 21, "fontWeight": "bold", "color": "#000000"}, "encoding": {"x": {"field": "x", "type": "quantitative"}, "text": {"field": "label"}}}
          ]
        }
      ]
    }
  ],
  "config": {
    "view": {"stroke": "#8c8c8c", "strokeWidth": 1},
    "font": "Lato",
    "text": {"font": "Lato"},
    "title": {"font": "Lato", "fontSize": 19.5, "fontWeight": "bold", "color": "#000000", "baseline": "alphabetic", "anchor": "middle", "frame": "group"},
    "axisY": {"domain": false, "ticks": false, "tickSize": 0, "labelPadding": 0, "grid": false, "title": null, "labelFont": "Lato", "labelFontSize": 10.5, "labelColor": "#595959"},
    "axisX": {"domain": false, "ticks": false, "labels": false, "grid": false, "titleFont": "Liberation Serif", "titleFontSize": 23, "titleFontWeight": "normal", "titleColor": "#000000", "titleBaseline": "alphabetic", "titleAlign": "center"}
  }
}
